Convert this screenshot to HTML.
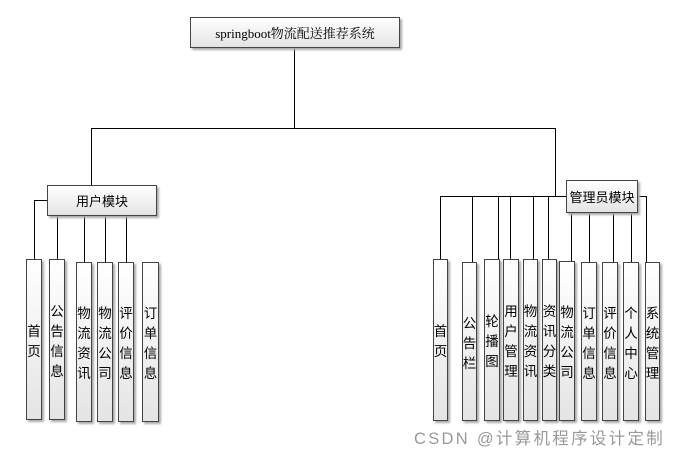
<!DOCTYPE html>
<html><head><meta charset="utf-8"><style>
body{margin:0;background:#fff;width:678px;height:456px;position:relative;overflow:hidden;font-family:"Liberation Serif","Noto Serif CJK SC","Noto Sans CJK SC",serif;}
.b{position:absolute;box-sizing:border-box;border:1px solid #444;background:linear-gradient(#fff,#e4e4e4);box-shadow:2px 2px 2px #aaa;display:flex;align-items:center;justify-content:center;font-size:13px;color:#000;}
.v{flex-direction:column;line-height:20px;font-size:13.5px;font-family:"Noto Sans CJK SC",sans-serif;}
.l{position:absolute;background:#000;}
.wm{position:absolute;left:414px;top:425px;font-size:16.5px;letter-spacing:2.3px;color:#999;font-family:"Liberation Sans","Noto Sans CJK SC",sans-serif;white-space:nowrap;}
</style></head><body>
<div class="l" style="left:294px;top:48px;width:1.3px;height:81px"></div>
<div class="l" style="left:91px;top:128px;width:465px;height:1.3px"></div>
<div class="l" style="left:91px;top:128px;width:1.3px;height:57px"></div>
<div class="l" style="left:555px;top:128px;width:1.3px;height:69px"></div>
<div class="l" style="left:34px;top:200px;width:13px;height:1.3px"></div>
<div class="l" style="left:34px;top:200px;width:1.3px;height:59px"></div>
<div class="l" style="left:57px;top:216px;width:1.3px;height:43px"></div>
<div class="l" style="left:84px;top:216px;width:1.3px;height:46px"></div>
<div class="l" style="left:105px;top:216px;width:1.3px;height:46px"></div>
<div class="l" style="left:126px;top:216px;width:1.3px;height:46px"></div>
<div class="l" style="left:440px;top:196px;width:126px;height:1.3px"></div>
<div class="l" style="left:638px;top:196px;width:8px;height:1.3px"></div>
<div class="l" style="left:440px;top:196px;width:1.3px;height:63px"></div>
<div class="l" style="left:472px;top:196px;width:1.3px;height:66px"></div>
<div class="l" style="left:498px;top:196px;width:1.3px;height:63px"></div>
<div class="l" style="left:510px;top:196px;width:1.3px;height:63px"></div>
<div class="l" style="left:533px;top:196px;width:1.3px;height:63px"></div>
<div class="l" style="left:548px;top:196px;width:1.3px;height:63px"></div>
<div class="l" style="left:571px;top:213px;width:1.3px;height:48px"></div>
<div class="l" style="left:589px;top:213px;width:1.3px;height:49px"></div>
<div class="l" style="left:613px;top:213px;width:1.3px;height:49px"></div>
<div class="l" style="left:631px;top:213px;width:1.3px;height:49px"></div>
<div class="l" style="left:646px;top:196px;width:1.3px;height:66px"></div>

<div class="b" style="left:190px;top:17px;width:210px;height:31px">springboot物流配送推荐系统</div>
<div class="b" style="left:47px;top:185px;width:110px;height:31px;font-family:'Noto Sans CJK SC',sans-serif">用户模块</div>
<div class="b" style="left:566px;top:180px;width:72px;height:33px;font-family:'Noto Sans CJK SC',sans-serif">管理员模块</div>

<div class="b v" style="left:26px;top:259px;width:16px;height:161px">首<br>页</div>
<div class="b v" style="left:49px;top:259px;width:16px;height:161px">公<br>告<br>信<br>息</div>
<div class="b v" style="left:76px;top:262px;width:16px;height:160px">物<br>流<br>资<br>讯</div>
<div class="b v" style="left:97px;top:262px;width:16px;height:160px">物<br>流<br>公<br>司</div>
<div class="b v" style="left:118px;top:262px;width:16px;height:160px">评<br>价<br>信<br>息</div>
<div class="b v" style="left:142px;top:262px;width:17px;height:160px">订<br>单<br>信<br>息</div>

<div class="b v" style="left:433px;top:259px;width:15px;height:162px">首<br>页</div>
<div class="b v" style="left:462px;top:262px;width:15px;height:159px">公<br>告<br>栏</div>
<div class="b v" style="left:484px;top:259px;width:16px;height:162px">轮<br>播<br>图</div>
<div class="b v" style="left:503px;top:259px;width:16px;height:162px">用<br>户<br>管<br>理</div>
<div class="b v" style="left:523px;top:259px;width:15px;height:162px">物<br>流<br>资<br>讯</div>
<div class="b v" style="left:542px;top:259px;width:15px;height:162px">资<br>讯<br>分<br>类</div>
<div class="b v" style="left:559px;top:261px;width:16px;height:160px">物<br>流<br>公<br>司</div>
<div class="b v" style="left:581px;top:262px;width:16px;height:159px">订<br>单<br>信<br>息</div>
<div class="b v" style="left:602px;top:262px;width:16px;height:159px">评<br>价<br>信<br>息</div>
<div class="b v" style="left:623px;top:262px;width:16px;height:159px">个<br>人<br>中<br>心</div>
<div class="b v" style="left:645px;top:262px;width:15px;height:159px">系<br>统<br>管<br>理</div>

<div class="wm">CSDN @计算机程序设计定制</div>
</body></html>
